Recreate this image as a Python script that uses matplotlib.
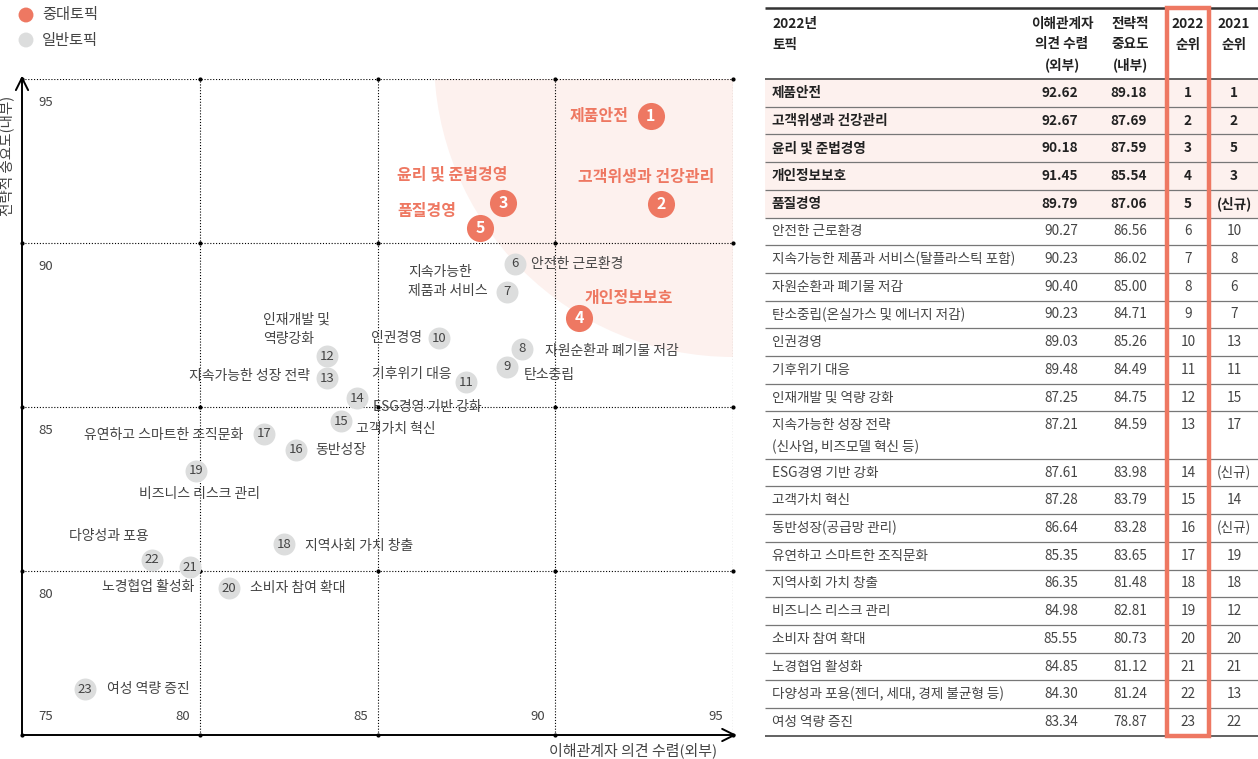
import matplotlib.pyplot as plt
from matplotlib.patches import Ellipse, Rectangle
import numpy as np

plt.rcParams['font.family'] = ['Noto Sans CJK KR', 'DejaVu Sans']

W, H = 1258, 759
ORANGE = '#EE7862'
GRAY = '#DCDDDD'
TXT = '#444444'
PINK = '#FDF1EE'

# ---- 데이터 ----
ranks = np.arange(1, 24)
chart_labels = ['제품안전', '고객위생과 건강관리', '윤리 및 준법경영', '개인정보보호', '품질경영',
                '안전한 근로환경', '지속가능한\n제품과 서비스', '자원순환과 폐기물 저감', '탄소중립',
                '인권경영', '기후위기 대응', '인재개발 및\n역량강화', '지속가능한 성장 전략',
                'ESG경영 기반 강화', '고객가치 혁신', '동반성장', '유연하고 스마트한 조직문화',
                '지역사회 가치 창출', '비즈니스 리스크 관리', '소비자 참여 확대', '노경협업 활성화',
                '다양성과 포용', '여성 역량 증진']
# 매트릭스 상의 위치
map_x = [92.69, 92.97, 88.53, 90.67, 87.88, 88.87, 88.64, 89.06, 88.64, 86.73, 87.49, 83.58,
         83.58, 84.42, 83.97, 82.71, 81.81, 82.37, 79.89, 80.82, 79.73, 78.66, 76.77]
map_y = [93.87, 91.19, 91.22, 87.71, 90.46, 89.36, 88.51, 86.77, 86.22, 87.10, 85.76, 86.55,
         85.88, 85.27, 84.57, 83.69, 84.18, 80.82, 83.05, 79.48, 80.12, 80.34, 76.40]

table_topics = ['제품안전', '고객위생과 건강관리', '윤리 및 준법경영', '개인정보보호', '품질경영',
                '안전한 근로환경', '지속가능한 제품과 서비스(탈플라스틱 포함)', '자원순환과 폐기물 저감',
                '탄소중립(온실가스 및 에너지 저감)', '인권경영', '기후위기 대응', '인재개발 및 역량 강화',
                '지속가능한 성장 전략\n(신사업, 비즈모델 혁신 등)', 'ESG경영 기반 강화', '고객가치 혁신',
                '동반성장(공급망 관리)', '유연하고 스마트한 조직문화', '지역사회 가치 창출',
                '비즈니스 리스크 관리', '소비자 참여 확대', '노경협업 활성화',
                '다양성과 포용(젠더, 세대, 경제 불균형 등)', '여성 역량 증진']
ext_score = ['92.62', '92.67', '90.18', '91.45', '89.79', '90.27', '90.23', '90.40', '90.23', '89.03',
             '89.48', '87.25', '87.21', '87.61', '87.28', '86.64', '85.35', '86.35', '84.98', '85.55',
             '84.85', '84.30', '83.34']
int_score = ['89.18', '87.69', '87.59', '85.54', '87.06', '86.56', '86.02', '85.00', '84.71', '85.26',
             '84.49', '84.75', '84.59', '83.98', '83.79', '83.28', '83.65', '81.48', '82.81', '80.73',
             '81.12', '81.24', '78.87']
rank_2021 = ['1', '2', '5', '3', '(신규)', '10', '8', '6', '7', '13', '11', '15', '17', '(신규)', '14',
             '(신규)', '19', '18', '12', '20', '21', '13', '22']
n_major = 5

# 라벨 위치 (원 중심 기준 픽셀 오프셋: 오른쪽 +, 아래 +)
label_pos = [(-22, 0, 'right'), (-15, -27, 'center'), (-106, -29, 'left'), (6, -20, 'left'),
             (-83, -17, 'left'), (16, 0, 'left'), (-99, -10, 'left'), (23, 2, 'left'),
             (17, 8, 'left'), (-17, 0, 'right'), (-14, -8, 'right'), (-64, -27, 'left'),
             (-17, -2, 'right'), (16, 9, 'left'), (15, 8, 'left'), (19, 0, 'left'),
             (-21, 1, 'right'), (21, 2, 'left'), (4, 23, 'center'), (21, 0, 'left'),
             (4, 20, 'right'), (-83, -24, 'left'), (22, 0, 'left')]

fig = plt.figure(figsize=(W / 100, H / 100), dpi=100)

# ---- 매트릭스 ----
ax = fig.add_axes([22 / W, 1 - 735 / H, 711 / W, 656 / H])
ax.set_xlim(75, 95)
ax.set_ylim(75, 95)
ax.axis('off')

ax.add_patch(Ellipse((95, 95.64), 16.82, 18.23, color=PINK, zorder=0, lw=0))

grid = [80, 85, 90, 95]
for g in grid:
    ax.axvline(g, color='black', lw=0.8, ls=(0, (1, 1.6)), zorder=1)
    ax.axhline(g, color='black', lw=0.8, ls=(0, (1, 1.6)), zorder=1)
gx, gy = np.meshgrid([75] + grid, [75] + grid)
ax.scatter(gx.ravel(), gy.ravel(), s=4, color='black', zorder=1, clip_on=False)

ax.annotate('', xy=(95.1, 75), xytext=(75, 75), zorder=2,
            arrowprops=dict(arrowstyle='->', lw=1.4, color='black', mutation_scale=22,
                            shrinkA=0, shrinkB=0), annotation_clip=False)
ax.annotate('', xy=(75, 95.1), xytext=(75, 75), zorder=2,
            arrowprops=dict(arrowstyle='->', lw=1.4, color='black', mutation_scale=22,
                            shrinkA=0, shrinkB=0), annotation_clip=False)

for v in grid:
    ax.annotate(str(v), (75, v), xytext=(16, -24), textcoords='offset pixels',
                ha='left', va='center', fontsize=9.5, color=TXT)
for v in [75] + grid:
    off, ha = ((16, 18), 'left') if v == 75 else ((-10, 18), 'right')
    ax.annotate(str(v), (v, 75), xytext=off, textcoords='offset pixels',
                ha=ha, va='center', fontsize=9.5, color=TXT)

major = ranks <= n_major
mx, my = np.array(map_x), np.array(map_y)
ax.scatter(mx[~major], my[~major], s=250, color=GRAY, zorder=3, lw=0)
ax.scatter(mx[major], my[major], s=380, color=ORANGE, zorder=3, lw=0)

for i, r in enumerate(ranks):
    big = r <= n_major
    ax.text(mx[i], my[i], str(r), ha='center', va='center', zorder=4,
            fontsize=11.5 if big else 9.5, fontweight='bold' if big else 'normal',
            color='white' if big else TXT)
    dx, dy, ha = label_pos[i]
    ax.annotate(chart_labels[i], (mx[i], my[i]), xytext=(dx, -dy), textcoords='offset pixels',
                ha=ha, va='center', zorder=4, linespacing=1.45,
                fontsize=11.5 if big else 10, fontweight='bold' if big else 'normal',
                color=ORANGE if big else TXT)

# ---- 오버레이 (범례, 축 제목, 표) ----
ov = fig.add_axes([0, 0, 1, 1])
ov.set_xlim(0, W)
ov.set_ylim(H, 0)
ov.axis('off')

ov.scatter([26, 26], [15, 40], s=115, color=[ORANGE, GRAY], lw=0)
ov.text(42, 15, '중대토픽', va='center', fontsize=11, color=TXT)
ov.text(42, 40, '일반토픽', va='center', fontsize=11, color=TXT)
ov.text(7, 156, '전략적 중요도(내부)', rotation=90, ha='center', va='center', fontsize=10.5, color=TXT)
ov.text(717, 750, '이해관계자 의견 수렴(외부)', ha='right', va='center', fontsize=10.8, color=TXT)

# 표
tx0, tx1 = 765, 1258
top, head_bot = 8, 79
rh = 27.7
heights = [rh * (1.71 if '\n' in t else 1) for t in table_topics]
edges = head_bot + np.concatenate([[0], np.cumsum(heights)])

ov.add_patch(Rectangle((tx0, edges[0]), tx1 - tx0, edges[n_major] - edges[0],
                       color=PINK, lw=0, zorder=0))
ov.hlines(top, tx0, tx1, color='#333333', lw=1.8)
ov.hlines(head_bot, tx0, tx1, color='#555555', lw=1.3)
ov.hlines(edges[1:-1], tx0, tx1, color='#777777', lw=0.9)
ov.hlines(edges[-1], tx0, tx1, color='#555555', lw=1.3)

col_topic, col_ext, col_int, col_r22, col_r21 = 772, 1078, 1147, 1188, 1234
hkw = dict(fontsize=9.8, fontweight='bold', color='#222222', va='center', linespacing=1.55)
ov.text(col_topic, 34.5, '2022년\n토픽', ha='left', **hkw)
ov.text(1062, 45, '이해관계자\n의견 수렴\n(외부)', ha='center', **hkw)
ov.text(1130, 45, '전략적\n중요도\n(내부)', ha='center', **hkw)
ov.text(col_r22, 34.5, '2022\n순위', ha='center', **hkw)
ov.text(col_r21, 34.5, '2021\n순위', ha='center', **hkw)

for i in range(len(table_topics)):
    yc = edges[i] + rh / 2
    big = i < n_major
    kw = dict(fontsize=9.8, va='center', fontweight='bold' if big else 'normal',
              color='#222222' if big else TXT)
    lines = table_topics[i].split('\n')
    for k, line in enumerate(lines):
        ov.text(col_topic, yc + 22 * k, line, ha='left', **kw)
    ov.text(col_ext, yc, ext_score[i], ha='right', **kw)
    ov.text(col_int, yc, int_score[i], ha='right', **kw)
    ov.text(col_r22, yc, str(ranks[i]), ha='center', **kw)
    ov.text(col_r21, yc, rank_2021[i], ha='center', **kw)

ov.add_patch(Rectangle((1167, top), 41.5, edges[-1] - top, fill=False,
                       edgecolor=ORANGE, lw=3.2, zorder=5))

fig.savefig('out.png', dpi=100)
